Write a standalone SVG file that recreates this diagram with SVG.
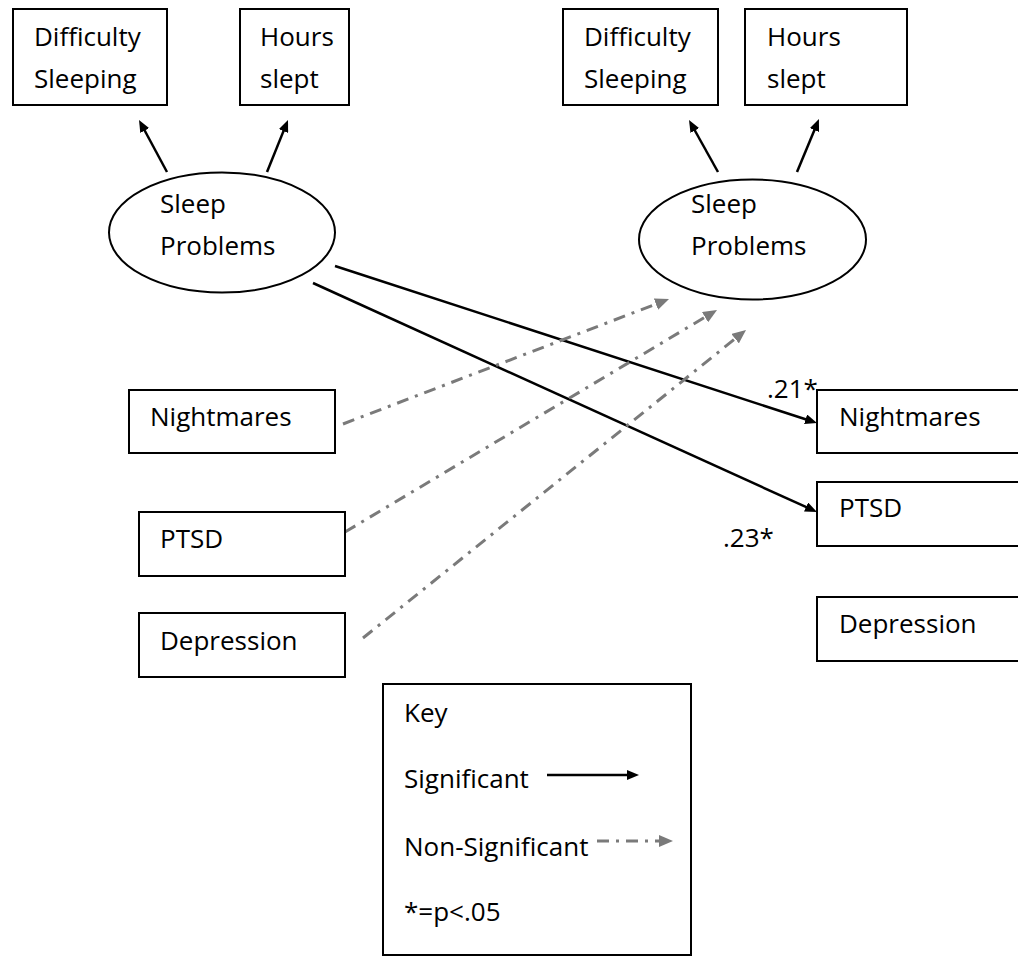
<svg xmlns="http://www.w3.org/2000/svg" width="1018" height="956" viewBox="0 0 1018 956">
<style>
text{font-family:"Open Sans","Liberation Sans",sans-serif;font-size:26px;fill:#000}
.box{fill:#fff;stroke:#000;stroke-width:2}
.sig{stroke:#000;stroke-width:2.5;fill:none;marker-end:url(#ah)}
.ns{stroke:#7a7a7a;stroke-width:3;fill:none;stroke-dasharray:12 7 3 7;marker-end:url(#ahg)}
</style>
<defs>
<marker id="ah" markerUnits="userSpaceOnUse" markerWidth="12" markerHeight="10" refX="4" refY="5" orient="auto"><path d="M0,0 L12,5 L0,10 z" fill="#000"/></marker>
<marker id="ahg" markerUnits="userSpaceOnUse" markerWidth="14" markerHeight="12" refX="5" refY="6" orient="auto"><path d="M0,0 L14,6 L0,12 z" fill="#7a7a7a"/></marker>
</defs>
<rect width="1018" height="956" fill="#fff"/>
<g id="connectors">
<line class="sig" x1="167" y1="172" x2="142.8" y2="127"/>
<line class="sig" x1="267" y1="172" x2="285" y2="127.4"/>
<line class="sig" x1="718" y1="172" x2="692.9" y2="127"/>
<line class="sig" x1="797" y1="172" x2="815.9" y2="126.4"/>
<line class="sig" x1="335" y1="266" x2="809.4" y2="420.5"/>
<line class="sig" x1="313" y1="283" x2="809.7" y2="508.7"/>
<line class="ns" x1="343" y1="424" x2="660.6" y2="302.3"/>
<line class="ns" x1="345" y1="532" x2="709.3" y2="314.6"/>
<line class="ns" x1="363" y1="638" x2="739" y2="335.6"/>
</g>
<g id="diff-left"><rect class="box" x="13" y="9" width="154" height="96"/><text x="34" y="46">Difficulty</text><text x="34" y="88">Sleeping</text></g>
<g id="hours-left"><rect class="box" x="240" y="9" width="109" height="96"/><text x="260" y="46">Hours</text><text x="260" y="88">slept</text></g>
<g id="diff-right"><rect class="box" x="563" y="9" width="155" height="96"/><text x="584" y="46">Difficulty</text><text x="584" y="88">Sleeping</text></g>
<g id="hours-right"><rect class="box" x="745" y="9" width="162" height="96"/><text x="767" y="46">Hours</text><text x="767" y="88">slept</text></g>
<g id="sleep-left"><ellipse cx="222" cy="232.5" rx="113" ry="60" fill="none" stroke="#000" stroke-width="2"/><text x="160" y="213">Sleep</text><text x="160" y="255">Problems</text></g>
<g id="sleep-right"><ellipse cx="752.5" cy="239.5" rx="113.5" ry="60" fill="none" stroke="#000" stroke-width="2"/><text x="691" y="213">Sleep</text><text x="691" y="255">Problems</text></g>
<g id="nightmares-left"><rect class="box" x="129" y="390" width="206" height="63"/><text x="150" y="426">Nightmares</text></g>
<g id="ptsd-left"><rect class="box" x="139" y="512" width="206" height="64"/><text x="160" y="548">PTSD</text></g>
<g id="depression-left"><rect class="box" x="139" y="613" width="206" height="64"/><text x="160" y="650">Depression</text></g>
<g id="nightmares-right"><rect class="box" x="817" y="390" width="220" height="63"/><text x="839" y="426">Nightmares</text></g>
<g id="ptsd-right"><rect class="box" x="817" y="482" width="220" height="64"/><text x="839" y="517">PTSD</text></g>
<g id="depression-right"><rect class="box" x="817" y="597" width="220" height="64"/><text x="839" y="633">Depression</text></g>
<g id="labels"><text x="767" y="398">.21*</text><text x="723" y="547">.23*</text></g>
<g id="key">
<rect class="box" x="383" y="684" width="308" height="271"/>
<text x="404" y="722">Key</text>
<text x="404" y="788">Significant</text>
<text x="404" y="856">Non-Significant</text>
<text x="404" y="921">*=p&lt;.05</text>
<line class="sig" x1="547" y1="775" x2="631" y2="775"/>
<line class="ns" x1="597" y1="841" x2="664" y2="841"/>
</g>
</svg>
